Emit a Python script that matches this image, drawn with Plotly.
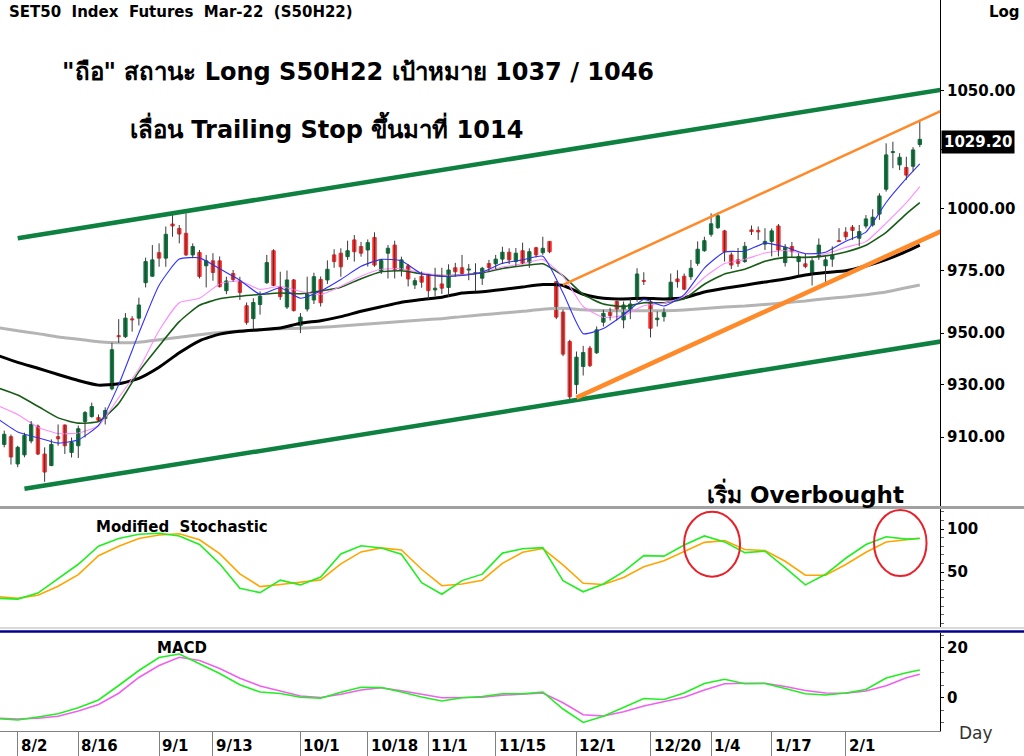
import math
import pandas as pd
import plotly.graph_objects as go
from plotly.subplots import make_subplots

# trading calendar (SET/TFEX holidays removed)
holidays = ["2021-07-28", "2021-08-12", "2021-09-24", "2021-10-13", "2021-10-22",
            "2021-12-06", "2021-12-10", "2021-12-31", "2022-01-03", "2022-02-16"]
calendar = [d.strftime("%Y-%m-%d") for d in pd.bdate_range("2021-07-27", "2022-02-23")]
calendar = [d for d in calendar if d not in holidays]
days = calendar[:calendar.index("2022-02-17") + 1]

# daily OHLC, 7/27/2021 .. 2/17/2022
opens = [911.9, 907.3, 910.2,
         900.0, 903.4, 908.6, 914.2, 903.7, 899.4, 910.2, 914.6, 904.3,
         906.8, 915.9, 917.8, 917.4, 917.1, 928.4, 949.0, 948.6, 955.6, 955.9,
         970.0, 972.6, 982.1, 979.9, 993.8, 992.0, 990.0, 981.2, 982.2, 976.8,
         978.8, 978.8, 966.8, 973.7, 970.7, 960.8, 955.7, 961.3, 970.0,
         982.9, 968.1, 960.3, 971.1, 952.9, 959.5, 963.1, 971.3, 971.1, 981.2,
         981.9, 980.5, 987.3, 984.6, 983.2, 988.3, 974.7, 981.9,
         985.2, 975.1, 976.8, 969.1, 972.6, 973.0, 967.1, 969.5, 968.1, 976.0,
         976.0, 975.1, 973.7, 971.8, 977.7, 977.6, 979.5, 982.3, 978.5, 982.9,
         978.0, 984.1, 982.1, 986.7, 970.4, 958.3, 946.7, 930.0, 937.0, 944.1,
         942.3, 954.3, 959.2, 962.5, 955.2, 958.5, 963.5, 970.9,
         962.2, 955.3, 956.5, 963.8, 971.5, 972.6, 972.4, 977.8, 982.9,
         989.6, 992.3, 991.0, 981.2, 979.2, 978.5, 991.4, 991.2, 985.6,
         986.7, 993.0, 978.1, 984.6, 978.5, 977.6, 973.5, 980.5, 976.8, 979.5,
         987.0, 990.5, 992.5, 988.0, 993.0, 993.4, 997.9, 1008.2, 1023.6, 1018.4,
         1017.3, 1017.8, 1027.0]
highs = [913.5, 912.5, 911.0,
         906.8, 911.7, 916.1, 914.8, 906.2, 909.2, 914.8, 914.8, 909.9,
         914.4, 919.9, 923.1, 918.6, 921.3, 946.2, 955.5, 957.9, 956.7, 964.0,
         980.1, 985.2, 985.9, 992.8, 997.5, 993.4, 998.2, 985.9, 983.2, 981.2,
         981.9, 980.6, 972.4, 975.1, 972.4, 962.1, 963.8, 966.5, 981.2,
         983.5, 974.4, 974.9, 971.5, 957.9, 972.4, 974.0, 972.5, 979.0, 983.5,
         983.9, 987.0, 989.3, 986.5, 987.5, 990.4, 979.5, 985.2,
         987.0, 980.5, 977.5, 972.0, 974.5, 973.5, 976.0, 976.0, 977.4, 978.0,
         981.2, 977.5, 977.8, 976.4, 979.2, 981.2, 984.5, 983.9, 984.0, 986.2,
         983.9, 984.5, 988.6, 986.7, 970.6, 959.3, 947.4, 942.8, 945.0, 945.0,
         952.6, 959.2, 960.0, 962.9, 962.5, 963.5, 975.8, 974.2,
         963.1, 958.5, 960.0, 973.7, 975.0, 973.7, 979.2, 986.7, 988.6,
         998.2, 998.5, 991.4, 982.2, 984.0, 986.5, 993.2, 992.8, 992.1,
         992.0, 993.8, 985.6, 986.5, 981.9, 981.6, 979.9, 987.9, 980.5, 984.7,
         992.1, 992.5, 993.4, 993.4, 997.5, 999.9, 1006.5, 1027.5, 1028.2, 1023.3,
         1021.8, 1025.9, 1037.5]
lows = [905.5, 906.2, 899.8,
        898.8, 902.5, 907.7, 903.3, 893.4, 899.2, 906.8, 903.7, 902.4,
        902.2, 909.9, 917.4, 915.9, 914.8, 927.8, 946.2, 948.1, 950.6, 953.0,
        968.1, 972.5, 976.4, 976.4, 988.6, 985.9, 980.8, 979.9, 971.7, 968.1,
        970.8, 968.1, 965.4, 970.4, 963.1, 953.3, 951.5, 957.3, 969.5,
        968.6, 963.1, 959.5, 958.5, 950.0, 958.5, 961.5, 960.5, 969.5, 976.0,
        972.4, 979.2, 978.5, 980.5, 976.5, 976.4, 973.5, 971.7,
        971.7, 972.5, 968.5, 967.5, 968.0, 963.4, 964.6, 965.5, 964.4, 972.4,
        973.4, 971.0, 966.5, 969.1, 974.5, 975.5, 977.5, 977.5, 976.5, 977.4,
        976.0, 980.2, 981.2, 981.9, 955.5, 941.0, 924.3, 926.4, 933.5, 936.8,
        941.9, 952.6, 955.0, 955.0, 951.9, 955.5, 962.4, 969.1,
        948.3, 952.6, 954.5, 963.5, 968.0, 967.0, 971.1, 976.8, 982.5,
        988.6, 991.8, 978.5, 975.5, 976.4, 978.0, 989.3, 987.3, 983.2,
        980.6, 980.6, 976.5, 980.0, 972.9, 975.8, 968.9, 979.2, 969.7, 976.4,
        986.6, 987.2, 987.3, 984.7, 992.0, 992.7, 995.5, 1007.2, 1017.0, 1016.2,
        1012.1, 1015.6, 1025.9]
closes = [907.3, 911.1, 902.6,
          906.2, 910.7, 914.8, 903.7, 897.0, 907.3, 909.4, 906.8, 908.0,
          913.2, 919.3, 921.6, 916.4, 920.1, 943.5, 948.6, 955.9, 955.2, 961.1,
          978.5, 979.2, 979.9, 989.6, 993.0, 989.7, 981.2, 984.6, 972.5, 978.8,
          974.1, 968.4, 970.7, 971.3, 966.1, 954.2, 962.1, 964.6, 978.1,
          968.9, 964.4, 971.1, 958.9, 956.3, 966.1, 972.4, 962.0, 975.4, 978.5,
          976.4, 982.9, 982.5, 981.9, 986.2, 977.1, 978.9, 983.9,
          975.3, 979.2, 971.5, 970.8, 970.2, 966.8, 967.8, 967.8, 975.1, 974.4,
          973.7, 975.5, 974.1, 975.8, 976.1, 979.5, 982.3, 979.2, 981.9, 977.7,
          982.5, 981.2, 983.9, 982.5, 956.3, 941.8, 925.3, 940.6, 942.4, 937.3,
          951.3, 957.8, 956.9, 959.2, 961.1, 961.5, 973.5, 970.5,
          951.9, 955.9, 958.5, 970.2, 970.4, 967.4, 975.8, 983.5, 987.0,
          993.9, 997.2, 982.5, 977.1, 977.8, 984.7, 990.7, 990.6, 986.7,
          991.0, 983.2, 984.3, 982.5, 980.5, 976.5, 978.8, 985.2, 979.2, 981.2,
          986.6, 988.6, 991.2, 990.7, 995.9, 996.6, 1005.4, 1022.6, 1024.0, 1021.6,
          1014.1, 1024.7, 1029.2]
assert len(days) == len(opens) == len(highs) == len(lows) == len(closes)

# moving averages and indicators read every third session
grid = days[::3] + [days[-1]]
ma_blue = [917, 912, 909.8, 907.8, 909, 914.5, 930, 950, 969, 979.5, 980, 975.6,
           971, 965.4, 968, 963.8, 966.7, 971.3, 976.6, 979.4, 978.8, 973.6, 972.5,
           972.9, 974.3, 977.8, 979.2, 980.7, 966, 949.8, 951.8, 957.2, 963.3, 960.7,
           965.2, 975.9, 982.4, 982.7, 986, 984.4, 981.7, 982.3, 986.8, 990.5,
           1002.7, 1012.7, 1018.8]
ma_pink = [922, 918.6, 913.8, 911.4, 911.6, 914.3, 925, 936, 951, 962, 963.8, 969.5,
           970.7, 967.3, 968.6, 966.5, 965.3, 968.6, 972.6, 975.4, 975.6, 974.0,
           973.1, 973.1, 974.3, 976.3, 977.6, 979.3, 972.6, 960.5, 956.2, 957.0,
           960.8, 961.8, 964.5, 972.2, 977.7, 979.4, 982.0, 983.0, 981.8, 981.6,
           984.3, 986.6, 994.2, 1002.6, 1009.3]
ma_green = [928.8, 926, 921.7, 917.3, 915.3, 915.9, 922.8, 935, 945, 954.5, 961,
            963.6, 964.6, 965.3, 965.9, 965.6, 966.7, 968.2, 971.6, 974.4, 974.8,
            973.6, 972.8, 973.1, 974.0, 975.7, 976.8, 977.6, 972.8, 965.3, 961.5,
            960.5, 962.0, 962.0, 963.6, 969.4, 973.5, 975.4, 978.6, 980.2, 980.2,
            980.8, 982.4, 985.1, 990.4, 998.0, 1002.6]
ma_black = [941.3, 938.6, 936.3, 933.9, 931.6, 929.8, 930.3, 932.4, 936.7, 942.3,
            947.0, 949.6, 950.7, 951.3, 952.0, 953.9, 954.9, 956.5, 958.6, 960.4,
            962.2, 963.3, 964.2, 965.9, 966.4, 967.3, 968.3, 969.3, 968.9, 965.4,
            963.8, 963.5, 963.8, 963.5, 964.0, 966.3, 967.8, 969.0, 970.3, 971.5,
            973.1, 974.1, 974.8, 976.7, 979.3, 982.6, 985.2]
ma_gray = [952.2, 950.9, 949.8, 948.5, 947.6, 946.6, 946.2, 946.4, 947.4, 948.4,
           949.4, 950.2, 950.8, 951.3, 951.7, 951.9, 952.3, 952.8, 953.4, 954.0,
           954.6, 955.2, 955.7, 956.5, 957.2, 957.9, 958.6, 959.4, 959.8, 959.2,
           958.9, 958.8, 958.8, 958.8, 959.1, 959.7, 960.3, 960.7, 961.3, 962.0,
           962.7, 963.6, 964.3, 965.2, 966.3, 968.0, 969.1]
stoch_k = [19.5, 18.5, 25.5, 42, 59, 80, 89, 94, 95, 92, 82, 59.5, 31, 26, 40.5, 35,
           44.2, 71, 80.5, 78, 70.6, 37.5, 24.2, 40, 47.5, 72, 77, 78.4, 40, 27, 36,
           50.5, 69, 68.5, 81.5, 92, 85, 72.5, 74.2, 55, 35, 47.3, 66, 82, 91, 88.2, 89]
stoch_d = [21.5, 19.5, 23, 33.4, 47, 69, 80, 89, 93, 94.5, 87.5, 71.3, 47.9, 33,
           35.4, 37.7, 40.8, 59.5, 73.4, 78.1, 75.6, 53.2, 34.1, 36, 40.5, 60, 73,
           77.3, 58.2, 36.9, 35.4, 43.7, 56, 63.2, 74, 84.5, 86.5, 76.2, 75, 62.5,
           46.4, 46.3, 58.7, 73, 85, 87.3, 89.2]
macd = [-8.2, -8.8, -7.6, -6.3, -3.9, -0.8, 5, 11, 16.2, 17.6, 13.7, 9.8, 5.3, 2.4,
        1.8, 0.3, -0.1, 2.3, 4.3, 4.2, 2.4, 0.4, -1.2, 0.1, 0.6, 1.7, 1.7, 2.4, -4.4,
        -9.8, -7.3, -3.8, -0.2, -0.6, 2.0, 5.8, 7.5, 5.7, 5.8, 3.8, 1.7, 1.2, 2.0,
        3.4, 8.0, 10.1, 11.2]
macd_signal = [-8.1, -8.4, -8.1, -7.3, -5.2, -2.6, 1.9, 8.2, 13.0, 16.3, 15.0, 11.8,
               7.9, 4.8, 2.8, 0.8, 0.2, 1.5, 3.2, 4.1, 2.9, 1.6, 0.1, 0.2, 0.3, 1.1,
               1.7, 2.0, -1.9, -6.7, -7.2, -5.5, -3.2, -1.4, 0.3, 3.2, 5.7, 5.9, 5.9,
               4.6, 3.0, 2.0, 1.9, 2.8, 4.9, 8.1, 9.5]

# hand drawn trend lines (date, price)
channel_top_days, channel_top = ["2021-08-02", "2022-02-23"], [988.0, 1050.9]
channel_bot_days, channel_bot = ["2021-08-03", "2022-02-23"], [890.8, 947.1]
orange_top_days, orange_top = ["2021-11-29", "2022-02-23"], [969.1, 1042.5]
orange_bot_days, orange_bot = ["2021-12-01", "2022-02-23"], [925.0, 991.9]

tick_days = ["2021-08-02", "2021-08-16", "2021-09-01", "2021-09-13", "2021-10-01",
             "2021-10-18", "2021-11-01", "2021-11-15", "2021-12-01", "2021-12-20",
             "2022-01-04", "2022-01-17", "2022-02-01"]
tick_text = ["8/2", "8/16", "9/1", "9/13", "10/1", "10/18", "11/1", "11/15", "12/1",
             "12/20", "1/4", "1/17", "2/1"]
price_ticks = [910, 930, 950, 975, 1000, 1025, 1050]
price_labels = ["910.00", "930.00", "950.00", "975.00", "1000.00", "", "1050.00"]  # 1025 sits under the price tag

UP, DOWN, WICK = "#08783c", "#ff2b2b", "#3a3a3a"
BOLD = dict(family="DejaVu Sans", size=15, color="black", weight="bold")

fig = make_subplots(rows=3, cols=1, shared_xaxes=True, vertical_spacing=0)

for vals, color, width in [(ma_gray, "#b4b4b4", 3), (ma_black, "black", 3),
                           (ma_green, "#165c16", 1.6), (ma_pink, "#ff8cff", 1.1),
                           (ma_blue, "#3030ff", 1.1)]:
    fig.add_trace(go.Scatter(x=grid, y=vals, mode="lines",
                             line=dict(color=color, width=width, shape="spline", smoothing=0.5)),
                  row=1, col=1)

# wicks as high-low segments, bodies as floating bars on top
wick_x, wick_y = [], []
for d, h, l in zip(days, highs, lows):
    wick_x += [d, d, None]
    wick_y += [l, h, None]
fig.add_trace(go.Scatter(x=wick_x, y=wick_y, mode="lines", line=dict(color=WICK, width=1)),
              row=1, col=1)
body_lo = [min(o, c) for o, c in zip(opens, closes)]
body_len = [abs(c - o) for o, c in zip(opens, closes)]
body_col = [UP if c > o else DOWN for o, c in zip(opens, closes)]
fig.add_trace(go.Bar(x=days, y=body_len, base=body_lo, width=0.5,
                     marker=dict(color=body_col, line=dict(color=body_col, width=1))),
              row=1, col=1)

for xs, ys, color, width in [(channel_top_days, channel_top, "#0e8040", 4.5),
                             (channel_bot_days, channel_bot, "#0e8040", 4.5),
                             (orange_top_days, orange_top, "#ff8a2a", 2.5),
                             (orange_bot_days, orange_bot, "#ff8a2a", 4.5)]:
    fig.add_trace(go.Scatter(x=xs, y=ys, mode="lines", line=dict(color=color, width=width)),
                  row=1, col=1)

fig.add_trace(go.Scatter(x=grid, y=stoch_d, mode="lines", line=dict(color="#ffa500", width=1.6)), row=2, col=1)
fig.add_trace(go.Scatter(x=grid, y=stoch_k, mode="lines", line=dict(color="#22ee22", width=1.6)), row=2, col=1)
fig.add_trace(go.Scatter(x=grid, y=macd_signal, mode="lines", line=dict(color="#f060f0", width=1.6)), row=3, col=1)
fig.add_trace(go.Scatter(x=grid, y=macd, mode="lines", line=dict(color="#22ee22", width=1.6)), row=3, col=1)

fig.update_layout(
    width=1024, height=756, margin=dict(l=0, r=84, t=0, b=25),
    paper_bgcolor="white", plot_bgcolor="white", showlegend=False,
    font=dict(family="DejaVu Sans", color="black"),
    yaxis=dict(domain=[0.3078, 1.0]),
    yaxis2=dict(domain=[0.1423, 0.3037]),
    yaxis3=dict(domain=[0.0, 0.1341]),
)
fig.update_xaxes(type="category", categoryorder="array", categoryarray=calendar,
                 range=[0.37, 140.0], showgrid=False, zeroline=False,
                 rangeslider_visible=False, showticklabels=False, ticks="")
fig.update_xaxes(row=3, col=1, tickmode="array", tickvals=tick_days, ticks="outside",
                 ticklen=25, tickcolor="#808080", showline=True, linecolor="#808080")

yax = dict(side="right", showgrid=False, zeroline=False, showline=True, linecolor="black",
           ticks="outside", ticklen=3, tickcolor="black", tickfont=BOLD)
fig.update_yaxes(row=1, col=1, type="log", range=[math.log10(884.5), math.log10(1090.2)],
                 tickmode="array", tickvals=price_ticks, ticktext=price_labels, **yax)
fig.update_yaxes(row=2, col=1, range=[-13.95, 123.3], tickmode="array", tickvals=[50, 100],
                 minor=dict(tickmode="linear", tick0=0, dtick=10, ticks="outside",
                            ticklen=3, tickcolor="#666666"), **yax)
fig.update_yaxes(row=3, col=1, range=[-13.2, 26.0], tickmode="array", tickvals=[0, 20],
                 minor=dict(tickmode="linear", tick0=0, dtick=5, ticks="outside",
                            ticklen=3, tickcolor="#666666"), **yax)

# panel separators
for y, color, width in [(0.3058, "#a0a0a0", 3), (0.1409, "#cccccc", 1.5), (0.1361, "#00008b", 2.5)]:
    fig.add_shape(type="line", xref="paper", yref="paper", x0=0, x1=1.09, y0=y, y1=y,
                  line=dict(color=color, width=width))

# overbought rings
for x0, x1, y0, y1 in [(101.98, 110.3, 44.5, 120.1), (130.2, 138.0, 45.3, 122.1)]:
    fig.add_shape(type="circle", xref="x2", yref="y2", x0=x0, x1=x1, y0=y0, y1=y1,
                  line=dict(color="#e8202a", width=2))

for d, t in zip(tick_days, tick_text):
    fig.add_annotation(x=d, xref="x3", y=-0.0205, yref="paper", text=t, showarrow=False,
                       xanchor="left", yanchor="middle", xshift=1, font=BOLD)

notes = [
    ("SET50\u00a0 Index\u00a0 Futures\u00a0 Mar-22\u00a0 (S50H22)", 0.0075, 0.9836, "left", 15),
    ("\"ถือ\" สถานะ Long S50H22 เป้าหมาย 1037 / 1046", 0.3809, 0.9015, "center", 24),
    ("เลื่อน Trailing Stop ขึ้นมาที่ 1014", 0.3473, 0.8249, "center", 24),
    ("เริ่ม Overbought", 0.8564, 0.3256, "center", 23),
    ("Modified\u00a0 Stochastic", 0.1, 0.2791, "left", 15),
    ("MACD", 0.1649, 0.1135, "left", 15),
    ("Log", 1.0691, 0.9836, "center", 15),
]
for text, x, y, anchor, size in notes:
    fig.add_annotation(x=x, y=y, xref="paper", yref="paper", text=text, showarrow=False,
                       xanchor=anchor, yanchor="middle",
                       font=dict(family="DejaVu Sans", size=size, color="black", weight="bold"))
fig.add_annotation(x=1.0585, y=-0.0192, xref="paper", yref="paper", text="Day", showarrow=False,
                   font=dict(family="DejaVu Sans", size=17, color="#333333"))

# last price tag
fig.add_annotation(x=1.0011, xref="paper", y=math.log10(closes[-1]), yref="y",
                   text=f"{closes[-1]:.2f}", showarrow=False, xanchor="left", yanchor="middle",
                   yshift=-3, bgcolor="black", borderpad=2,
                   font=dict(family="DejaVu Sans", size=15, color="white", weight="bold"))

fig.write_html("out.html", config={"displayModeBar": False},
               post_script="document.body.style.margin='0';")
